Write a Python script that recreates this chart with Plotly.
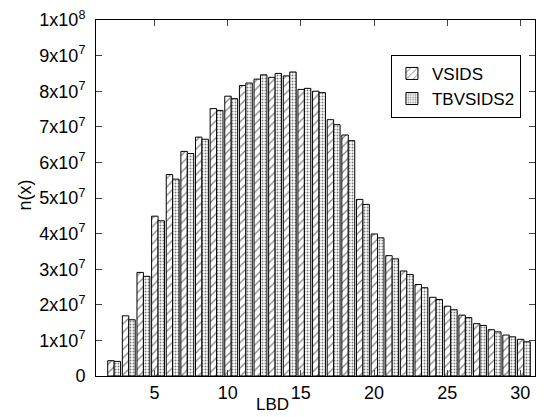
import plotly.graph_objects as go

lbd = list(range(2, 31))
vsids = [4.3, 16.9, 29.1, 44.9, 56.6, 63.1, 67.1, 75.1, 78.6, 81.6, 83.4, 83.9, 84.3,
         80.5, 80.0, 72.0, 67.7, 49.6, 39.9, 33.8, 29.5, 25.7, 22.1, 19.6, 17.1, 14.7,
         13.0, 11.5, 10.3]
tbvsids2 = [4.1, 15.8, 28.0, 43.6, 55.3, 62.5, 66.5, 74.6, 77.9, 82.3, 84.6, 85.0, 85.4,
            80.8, 79.6, 70.6, 66.1, 48.2, 38.8, 32.9, 28.5, 24.8, 21.5, 18.6, 16.4, 14.2,
            12.4, 11.0, 9.6]
scale = 1e6
y_ticks = [i * 1e7 for i in range(11)]
y_ticktext = ["0"] + [f"{i}x10<sup>7</sup>" for i in range(1, 10)] + ["1x10<sup>8</sup>"]
x_ticks = [5, 10, 15, 20, 25, 30]

FONT = "Liberation Sans, Arial, Helvetica, sans-serif"

fig = go.Figure()
fig.add_trace(go.Bar(
    x=lbd, y=[v * scale for v in vsids], name="VSIDS",
    width=0.44, offset=-0.2,
    marker=dict(color="white", line=dict(color="black", width=1),
                pattern=dict(shape="/", fgcolor="black", bgcolor="white",
                             size=6, solidity=0.2)),
))
fig.add_trace(go.Bar(
    x=lbd, y=[v * scale for v in tbvsids2], name="TBVSIDS2",
    width=0.44, offset=0.24,
    marker=dict(color="white", line=dict(color="black", width=1),
                pattern=dict(shape=".", fgcolor="black", bgcolor="white",
                             size=3, solidity=0.35)),
))

fig.update_layout(
    width=544, height=417,
    margin=dict(l=96, r=8, t=18, b=41),
    paper_bgcolor="white", plot_bgcolor="white",
    barmode="overlay",
    font=dict(family=FONT, size=18, color="black"),
    showlegend=True,
    legend=dict(x=0.968, y=0.902, xanchor="right", yanchor="top",
                bordercolor="black", borderwidth=1, bgcolor="white",
                font=dict(size=17), tracegroupgap=0),
    xaxis=dict(range=[1, 31], tickvals=x_ticks, ticks="inside", ticklen=6,
               showline=True, linecolor="black", linewidth=1, mirror="ticks",
               showgrid=False, zeroline=False, tickfont=dict(size=18),
               ticklabelstandoff=0),
    yaxis=dict(range=[0, 1e8], tickvals=y_ticks, ticktext=y_ticktext,
               ticks="inside", ticklen=6,
               showline=True, linecolor="black", linewidth=1, mirror="ticks",
               showgrid=False, zeroline=False, tickfont=dict(size=18),
               ticklabelstandoff=6),
    annotations=[
        dict(text="n(x)", xref="paper", yref="paper", x=-0.161, y=0.508,
             xanchor="center", yanchor="middle", textangle=-90, showarrow=False,
             font=dict(size=18)),
        dict(text="LBD", xref="paper", yref="paper", x=0.403, y=-0.109,
             xanchor="center", yanchor="bottom", showarrow=False, borderpad=0,
             font=dict(size=17)),
    ],
)

fig.write_html("out.html")
